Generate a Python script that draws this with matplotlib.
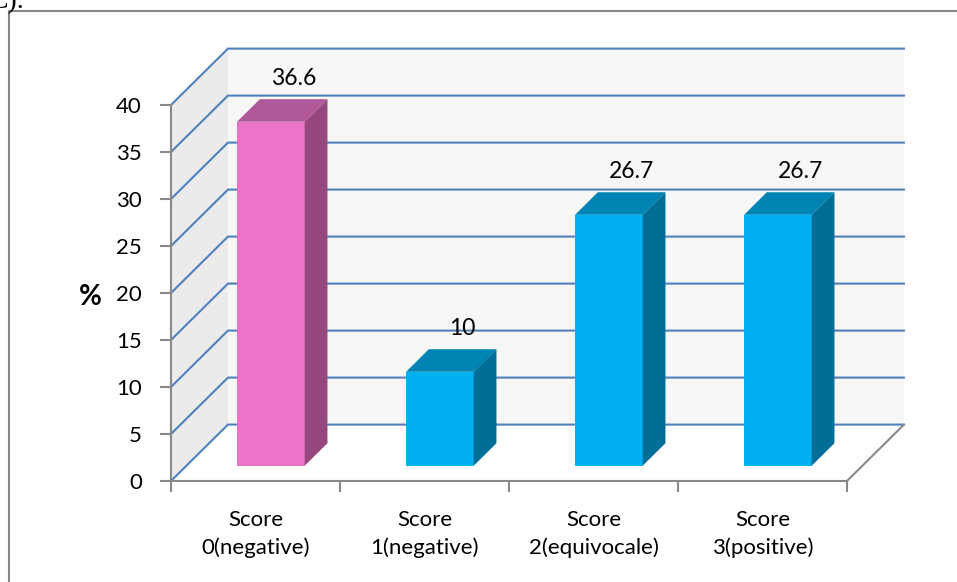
import matplotlib.pyplot as plt
from matplotlib.patches import Polygon
from matplotlib.lines import Line2D

# score distribution (%)
categories = ["Score\n0(negative)", "Score\n1(negative)", "Score\n2(equivocale)", "Score\n3(positive)"]
values = [36.6, 10, 26.7, 26.7]
value_labels = ["36.6", "10", "26.7", "26.7"]
yticks = [0, 5, 10, 15, 20, 25, 30, 35, 40]

front_colors = ["#EC74C8", "#00B0F0", "#00B0F0", "#00B0F0"]
top_colors = ["#B0589A", "#0084B4", "#0084B4", "#0084B4"]
side_colors = ["#96487E", "#006F98", "#006F98", "#006F98"]

# fake 3d: depth offset of the back wall in data units
DX, DY = 0.337, 6.0
F0, F1 = 0.27, 0.67   # bar front / back depth fractions
BW = 0.4              # bar width

plt.rcParams["font.family"] = ["Lato", "DejaVu Sans"]

fig = plt.figure(figsize=(9.57, 5.82), dpi=100)
ax = fig.add_axes([171 / 957, 101 / 582, 676 / 957, 376 / 582])
ax.set_xlim(0, 4)
ax.set_ylim(0, 40)

grid_c = "#4F81BD"
axis_c = "#898989"
ymax = yticks[-1]
n = len(categories)

# walls
ax.add_patch(Polygon([(DX, DY), (n + DX, DY), (n + DX, ymax + DY), (DX, ymax + DY)],
                     closed=True, fc="#F7F7F5", ec="none", zorder=0, clip_on=False))
ax.add_patch(Polygon([(0, 0), (DX, DY), (DX, ymax + DY), (0, ymax)],
                     closed=True, fc="#EBEBEB", ec="none", zorder=0, clip_on=False))

# gridlines along the left wall and the back wall
for t in yticks:
    ax.plot([0, DX, n + DX], [t, t + DY, t + DY], color=grid_c, lw=1.5,
            zorder=1, clip_on=False, solid_joinstyle="miter")

# right edge of the floor
ax.plot([n, n + DX], [0, DY], color=axis_c, lw=1.5, zorder=1, clip_on=False)

# bars: front face + top + side
for i, v in enumerate(values):
    x0 = i + 0.5 - BW / 2 + F0 * DX
    y0 = F0 * DY
    bx, by = (F1 - F0) * DX, (F1 - F0) * DY
    ax.bar(x0, v, width=BW, bottom=y0, align="edge", color=front_colors[i],
           zorder=3, clip_on=False)
    ax.add_patch(Polygon([(x0, y0 + v), (x0 + BW, y0 + v), (x0 + BW + bx, y0 + v + by),
                          (x0 + bx, y0 + v + by)], closed=True, fc=top_colors[i],
                         ec="none", zorder=3, clip_on=False))
    ax.add_patch(Polygon([(x0 + BW, y0), (x0 + BW + bx, y0 + by), (x0 + BW + bx, y0 + v + by),
                          (x0 + BW, y0 + v)], closed=True, fc=side_colors[i],
                         ec="none", zorder=3, clip_on=False))
    ax.text(i + 0.5 + F1 * DX, v + F1 * DY + 2.2, value_labels[i], ha="center",
            va="center", fontsize=16.5, color="black", zorder=4)

# axes
for s in ["top", "right"]:
    ax.spines[s].set_visible(False)
for s in ["left", "bottom"]:
    ax.spines[s].set_color(axis_c)
    ax.spines[s].set_linewidth(1.5)
    ax.spines[s].set_zorder(2)
ax.patch.set_visible(False)

ax.set_yticks(yticks)
ax.tick_params(axis="y", length=8, width=1.5, color=axis_c, labelsize=16, pad=13)
ax.set_xticks(range(n + 1))
ax.set_xticklabels([])
ax.tick_params(axis="x", which="major", length=8, width=1.5, color=axis_c)
ax.set_xticks([i + 0.5 for i in range(n)], minor=True)
ax.set_xticklabels(categories, minor=True, fontsize=16, linespacing=1.45)
ax.tick_params(axis="x", which="minor", length=0, pad=21)

fig.text(90 / 957, 1 - 297 / 582, "%", ha="center", va="center", fontsize=20,
         fontweight="bold")

# outer frame (top and left edges)
fig.add_artist(Line2D([9 / 957, 9 / 957], [0, 1 - 11 / 582], color=axis_c, lw=1.5))
fig.add_artist(Line2D([9 / 957, 1], [1 - 11 / 582, 1 - 11 / 582], color=axis_c, lw=1.5))
fig.text(-10 / 957, 1 - 8 / 582, "C).", ha="left", va="baseline", fontsize=20,
         family="Liberation Serif")

fig.savefig("out.png", dpi=100)
